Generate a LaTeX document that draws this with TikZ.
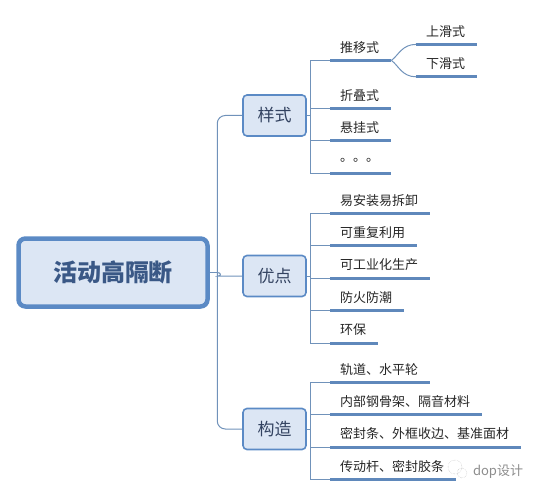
\documentclass[tikz,border=0pt]{standalone}
\usepackage{fontspec}
\usepackage{xcolor}
\usepackage{tikz}
\usetikzlibrary{arrows.meta,positioning,calc}
\setmainfont{Noto Sans CJK SC}
\definecolor{softblue}{RGB}{220,230,244}
\definecolor{edgeblue}{RGB}{91,138,197}
\definecolor{barblue}{RGB}{95,136,187}
\definecolor{linkblue}{RGB}{112,146,186}
\definecolor{titleblue}{RGB}{58,88,134}
\definecolor{inkblue}{RGB}{50,66,96}

\begin{document}
\begin{tikzpicture}[
    x=1pt, y=-1pt,
    root/.style={draw=edgeblue, line width=4.5pt, rounded corners=7pt, fill=softblue, text=titleblue, font=\fontsize{24}{24}\selectfont\bfseries, minimum width=189pt, minimum height=68pt, inner sep=0pt},
    topic/.style={draw=edgeblue, line width=1.6pt, rounded corners=4pt, fill=softblue, text=inkblue, font=\fontsize{17}{17}\selectfont, minimum width=63pt, minimum height=41pt, inner sep=0pt},
    bar/.style={draw=barblue, line width=3pt},
    leaf/.style={inner sep=0pt, text width=#1, minimum height=26pt, align=left, anchor=north west, font=\fontsize{13}{14}\selectfont, text=black!85,
        execute at begin node={\hspace*{10pt}},
        append after command={(\tikzlastnode.south west) edge[bar] (\tikzlastnode.south east)}},
    link/.style={draw=linkblue, line width=1pt, rounded corners=8pt},
    bubble/.style={draw=black!30, densely dotted, circle, inner sep=0pt}
]
    \useasboundingbox (0,0) rectangle (539,495);

    \node[root] (main) at (113,272.5) {活动高隔断};
    \node[topic] (yangshi) at (274.5,115.5) {样式};
    \node[topic] (youdian) at (274.5,276) {优点};
    \node[topic] (gouzao) at (274.5,429) {构造};

    % 样式
    \node[leaf=61pt] (tuiyi) at (330,34) {推移式};
    \node[leaf=61pt] (zhedie) at (330,82) {折叠式};
    \node[leaf=61pt, below=6pt of zhedie.south west, anchor=north west] (xuangua) {悬挂式};
    \node[leaf=61pt, below=6pt of xuangua.south west, anchor=north west] (dots) {。。。};
    \node[leaf=61pt] (shanghua) at (416,18) {上滑式};
    \node[leaf=61pt, below=6pt of shanghua.south west, anchor=north west] (xiahua) {下滑式};

    % 优点
    \node[leaf=100pt] (yianzhuang) at (330,187) {易安装易拆卸};
    \node[leaf=87pt, below=6pt of yianzhuang.south west, anchor=north west] (chongfu) {可重复利用};
    \node[leaf=100pt, below=6pt of chongfu.south west, anchor=north west] (gongye) {可工业化生产};
    \node[leaf=74pt, below=6pt of gongye.south west, anchor=north west] (fanghuo) {防火防潮};
    \node[leaf=48pt, below=6pt of fanghuo.south west, anchor=north west] (huanbao) {环保};

    % 构造
    \node[leaf=100pt] (guidao) at (330,356) {轨道、水平轮};
    \node[leaf=152pt, below=6pt of guidao.south west, anchor=north west] (neibu) {内部钢骨架、隔音材料};
    \node[leaf=191pt, below=6pt of neibu.south west, anchor=north west] (mifeng) {密封条、外框收边、基准面材};
    \node[leaf=126pt, below=6pt of mifeng.south west, anchor=north west] (chuandong) {传动杆、密封胶条};

    \node[font=\fontsize{13}{13}\selectfont, text=black!45, inner sep=0pt] (mark) at (498,472) {dop设计};
    \node[bubble, minimum size=14pt] (bigbubble) at (455,467) {};
    \node[bubble, minimum size=10pt] (smallbubble) at (462,473) {};

    \coordinate (mainjoin) at ($(main.east)+(7.5,0)$);
    \coordinate (yangshijoin) at ($(yangshi.east)+(3.5,0)$);
    \coordinate (youdianjoin) at ($(youdian.east)+(3.5,0)$);
    \coordinate (gouzaojoin) at ($(gouzao.east)+(3.5,0)$);
    \coordinate (youdianbend) at ($(mainjoin |- youdian.west)+(9,0)$);

    \draw[link] (main.east) -- (mainjoin);
    \draw[link] (mainjoin) |- (yangshi.west);
    \draw[link] (mainjoin) |- (gouzao.west);
    \draw[link] (mainjoin) .. controls ($(mainjoin)+(4,0)$) and ($(youdianbend)+(-5,0)$) .. (youdianbend) -- (youdian.west);

    \draw[link] (yangshi.east) -- (yangshijoin);
    \draw[link, rounded corners=0pt] (yangshijoin) |- (tuiyi.south west);
    \draw[link, rounded corners=0pt] (yangshijoin) |- (zhedie.south west);
    \draw[link, rounded corners=0pt] (yangshijoin) |- (xuangua.south west);
    \draw[link, rounded corners=0pt] (yangshijoin) |- (dots.south west);
    \draw[link] (tuiyi.south east) .. controls ($(tuiyi.south east)+(7,-5)$) and ($(shanghua.south west)+(-14,0)$) .. (shanghua.south west);
    \draw[link] (tuiyi.south east) .. controls ($(tuiyi.south east)+(7,5)$) and ($(xiahua.south west)+(-14,0)$) .. (xiahua.south west);

    \draw[link] (youdian.east) -- (youdianjoin);
    \draw[link, rounded corners=0pt] (youdianjoin) |- (yianzhuang.south west);
    \draw[link, rounded corners=0pt] (youdianjoin) |- (chongfu.south west);
    \draw[link, rounded corners=0pt] (youdianjoin) |- (gongye.south west);
    \draw[link, rounded corners=0pt] (youdianjoin) |- (fanghuo.south west);
    \draw[link, rounded corners=0pt] (youdianjoin) |- (huanbao.south west);

    \draw[link] (gouzao.east) -- (gouzaojoin);
    \draw[link, rounded corners=0pt] (gouzaojoin) |- (guidao.south west);
    \draw[link, rounded corners=0pt] (gouzaojoin) |- (neibu.south west);
    \draw[link, rounded corners=0pt] (gouzaojoin) |- (mifeng.south west);
    \draw[link, rounded corners=0pt] (gouzaojoin) |- (chuandong.south west);
\end{tikzpicture}
\end{document}
